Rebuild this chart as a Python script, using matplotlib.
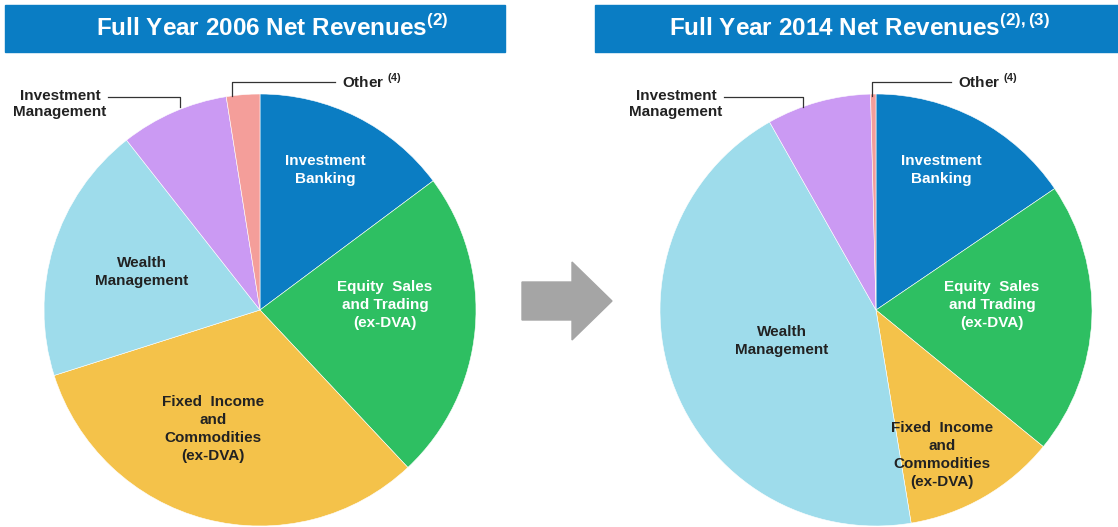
import matplotlib.pyplot as plt
from matplotlib.patches import Rectangle, Polygon

plt.rcParams['font.family'] = ['Liberation Sans', 'DejaVu Sans']
plt.rcParams['mathtext.fontset'] = 'custom'
plt.rcParams['mathtext.rm'] = 'Liberation Sans'
plt.rcParams['mathtext.bf'] = 'Liberation Sans:bold'

# segments, clockwise from 12 o'clock
segments = ['Investment Banking', 'Equity Sales and Trading', 'Fixed Income and Commodities',
            'Wealth Management', 'Investment Management', 'Other']
share_2006 = [14.8, 23.2, 32.1, 19.3, 8.1, 2.5]
share_2014 = [15.5, 20.4, 11.5, 44.4, 7.8, 0.4]
colors = ['#0B7DC3', '#2EBF62', '#F4C24A', '#9EDCEB', '#CB9AF3', '#F49E9A']

W, H = 1118, 527
fig = plt.figure(figsize=(W / 100, H / 100), dpi=100)
ax = fig.add_axes([0, 0, 1, 1])

FS = 11


def Y(y):
    return H - y


def draw(cx, cy, values, title, title_x, labels, bar, other_x, inv_x):
    ax.pie(values, colors=colors, startangle=90, counterclock=False,
           center=(cx, Y(cy)), radius=216,
           wedgeprops=dict(linewidth=0.4, edgecolor='white'))
    ax.add_patch(Rectangle((bar[0], Y(52)), bar[1] - bar[0], 47,
                           color='#0A7DC4', zorder=3))
    ax.text(title_x, Y(28), title, color='white', fontsize=17.5,
            fontweight='bold', ha='center', va='center', zorder=4)
    for (tx, ty, txt, c) in labels:
        ax.text(tx, Y(ty), txt, color=c, fontsize=FS, fontweight='bold',
                ha='center', va='center', linespacing=1.35, zorder=5)
    # callout lines
    ax.plot([other_x, other_x, cx + 75], [Y(96), Y(82), Y(82)], color='#333333', lw=0.9)
    ax.text(cx + 82, Y(81), r'Other $^{\mathbf{(4)}}$', fontsize=FS, fontweight='bold',
            ha='left', va='center', color='#222222')
    ax.plot([cx - 152, inv_x, inv_x], [Y(97), Y(97), Y(107)], color='#333333', lw=0.9)
    ax.text(cx - 200, Y(104), 'Investment\nManagement', fontsize=FS, fontweight='bold',
            ha='center', va='center', linespacing=1.1, color='#222222')


left_labels = [
    (325, 170, 'Investment\nBanking', 'white'),
    (385, 305, 'Equity  Sales\nand Trading\n(ex-DVA)', 'white'),
    (213, 429, 'Fixed  Income\nand\nCommodities\n(ex-DVA)', '#222222'),
    (142, 272, 'Wealth\nManagement', '#222222'),
]
right_labels = [
    (941, 170, 'Investment\nBanking', 'white'),
    (992, 305, 'Equity  Sales\nand Trading\n(ex-DVA)', 'white'),
    (942, 455, 'Fixed  Income\nand\nCommodities\n(ex-DVA)', '#222222'),
    (782, 341, 'Wealth\nManagement', '#222222'),
]

draw(260, 310, share_2006, r'Full Year 2006 Net Revenues$^{\mathbf{(2)}}$', 272,
     left_labels, (5, 505), 232, 180)
draw(876, 310, share_2014, r'Full Year 2014 Net Revenues$^{\mathbf{(2),(3)}}$', 860,
     right_labels, (595, 1118), 872, 803)

# arrow between the two pies
ax.add_patch(Polygon([(522, Y(282)), (572, Y(282)), (572, Y(262)), (612, Y(301)),
                      (572, Y(340)), (572, Y(320)), (522, Y(320))],
                     closed=True, color='#A5A5A5'))

ax.set_xlim(0, W)
ax.set_ylim(0, H)
ax.set_aspect('auto')
ax.axis('off')

fig.savefig('out.png', dpi=100)
